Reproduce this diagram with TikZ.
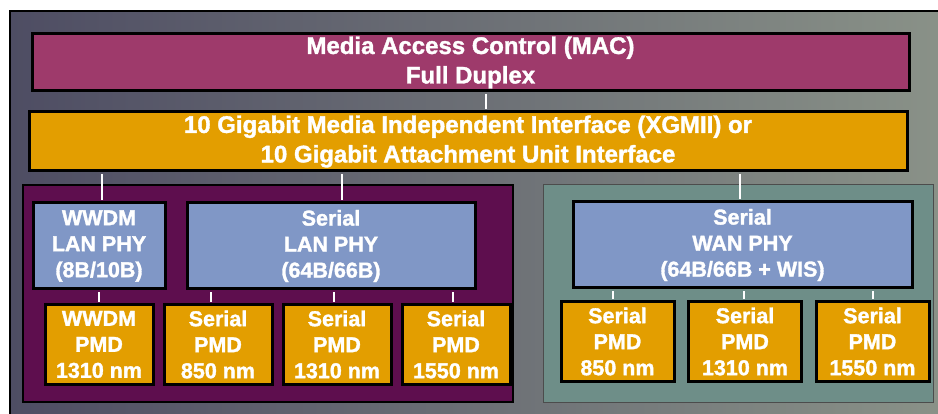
\documentclass[tikz,border=0pt]{standalone}
\usepackage{fontspec}
\setmainfont{Liberation Sans}[BoldFeatures={FakeBold=1.5}]
\usetikzlibrary{positioning}
\definecolor{macred}{HTML}{9E3A6B}
\definecolor{ifaceorange}{HTML}{E39E00}
\definecolor{lanpurple}{HTML}{5E0E4E}
\definecolor{wanteal}{HTML}{6E8E88}
\definecolor{phyblue}{HTML}{8097C6}
\definecolor{bgleft}{HTML}{4E4D63}
\definecolor{bgright}{HTML}{8A9288}

\begin{document}
\begin{tikzpicture}[
    x=1pt, y=-1pt,
    node distance=8pt,
    every node/.style={text=white, align=center, inner sep=0pt},
    topbox/.style={draw=black, line width=3pt, minimum height=57pt, font=\bfseries\fontsize{24}{29.5}\selectfont},
    phybox/.style={draw=black, line width=3pt, fill=phyblue, minimum height=86pt, font=\bfseries\fontsize{21.5}{26}\selectfont},
    pmdbox/.style={draw=black, line width=3pt, fill=ifaceorange, minimum height=79pt, font=\bfseries\fontsize{21.5}{26}\selectfont},
    group/.style={minimum height=217pt},
    link/.style={draw=white, line width=2pt, shorten >=1.5pt, shorten <=1.5pt}
]
   \useasboundingbox (0,0) rectangle (938,414);

   % Background
   \shade[left color=bgleft, right color=bgright] (10,11) rectangle (950,425);
   \draw[black, line width=1.5pt] (10,425) -- (10,11) -- (950,11);

   % Upper layers
   \node[topbox, fill=macred, minimum width=877pt] (mac) at (470.5,62.5) {Media Access Control (MAC)\\Full Duplex};
   \node[topbox, fill=ifaceorange, minimum width=878pt, minimum height=59pt] (xgmii) at (468,141.5)
        {10 Gigabit Media Independent Interface (XGMII) or\\10 Gigabit Attachment Unit Interface};

   % Groups
   \node[group, fill=lanpurple, draw=black, line width=1.5pt, minimum width=490pt] (lan) at (268,293.5) {};
   \node[group, fill=wanteal, draw=black!70, line width=1pt, minimum width=390pt] (wan) at (738,293.5) {};

   % PHYs
   \node[phybox, minimum width=132pt] (lanphyW) at (99,246) {WWDM\\LAN PHY\\(8B/10B)};
   \node[phybox, minimum width=288pt] (lanphyS) [right=19pt of lanphyW] {Serial\\LAN PHY\\(64B/66B)};
   \node[phybox, minimum width=339pt] (wanphy) at (742.5,245) {Serial\\WAN PHY\\(64B/66B + WIS)};

   % PMDs
   \node[pmdbox, minimum width=108pt] (pmdW) [below=13pt of lanphyW] {WWDM\\PMD\\1310 nm};
   \node[pmdbox, minimum width=108pt] (pmdA) [right=of pmdW] {Serial\\PMD\\850 nm};
   \node[pmdbox, minimum width=108pt] (pmdB) [right=of pmdA] {Serial\\PMD\\1310 nm};
   \node[pmdbox, minimum width=108pt] (pmdC) [right=of pmdB] {Serial\\PMD\\1550 nm};
   \node[pmdbox, minimum width=113pt] (pmdD) at (617.5,341.5) {Serial\\PMD\\850 nm};
   \node[pmdbox, minimum width=113pt] (pmdE) [right=11.5pt of pmdD] {Serial\\PMD\\1310 nm};
   \node[pmdbox, minimum width=113pt] (pmdF) [right=11.5pt of pmdE] {Serial\\PMD\\1550 nm};

   % Links
   \path[link]
   ([xshift=15.5pt]mac.south) edge ([xshift=15.5pt]mac.south |- xgmii.north)

   ([xshift=3pt]lanphyW.north) edge ([xshift=3pt]lanphyW.north |- xgmii.south)
   ([xshift=11pt]lanphyS.north) edge ([xshift=11pt]lanphyS.north |- xgmii.south)
   ([xshift=-2.5pt]wanphy.north) edge ([xshift=-2.5pt]wanphy.north |- xgmii.south)

   (pmdW.north) edge (pmdW.north |- lanphyW.south)
   ([xshift=-7pt]pmdA.north) edge ([xshift=-7pt]pmdA.north |- lanphyS.south)
   ([xshift=-3pt]pmdB.north) edge ([xshift=-3pt]pmdB.north |- lanphyS.south)
   ([xshift=-3pt]pmdC.north) edge ([xshift=-3pt]pmdC.north |- lanphyS.south)

   ([xshift=-4.5pt]pmdD.north) edge ([xshift=-4.5pt]pmdD.north |- wanphy.south)
   ([xshift=-1.5pt]pmdE.north) edge ([xshift=-1.5pt]pmdE.north |- wanphy.south)
   (pmdF.north) edge (pmdF.north |- wanphy.south);
\end{tikzpicture}
\end{document}
